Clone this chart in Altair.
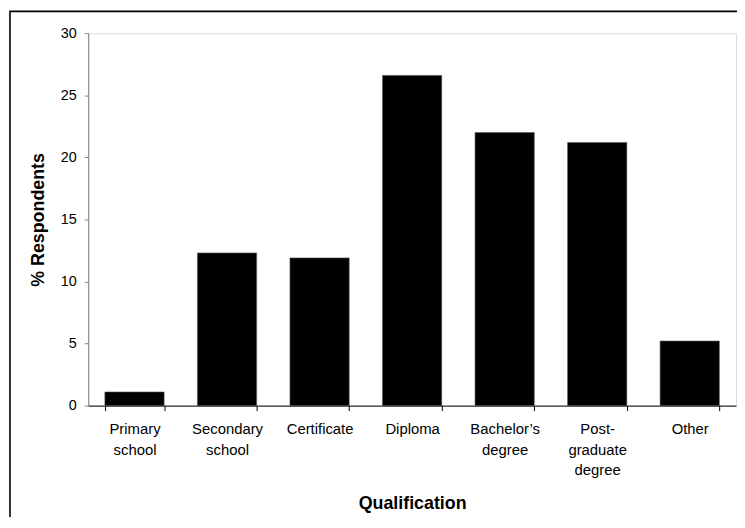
import altair as alt
import pandas as pd

categories = ["Primary school", "Secondary school", "Certificate", "Diploma",
              "Bachelor\u2019s degree", "Post-graduate degree", "Other"]
label_lines = [["Primary", "school"], ["Secondary", "school"], ["Certificate"],
               ["Diploma"], ["Bachelor\u2019s", "degree"],
               ["Post-", "graduate", "degree"], ["Other"]]
values = [1.1, 12.3, 11.9, 26.6, 22.0, 21.2, 5.2]
y_ticks = [0, 5, 10, 15, 20, 25, 30]

df = pd.DataFrame({"Qualification": categories, "Pct": values})

# build multi-line label expression
expr = "datum.label"
for cat, lines in reversed(list(zip(categories, label_lines))):
    arr = "[" + ",".join("'" + l + "'" for l in lines) + "]"
    expr = f"datum.label == '{cat}' ? {arr} : ({expr})"

FONT = "Liberation Sans"

bars = alt.Chart(df).mark_bar(color="#000000", stroke="#555555", strokeWidth=0.6).encode(
    x=alt.X("Qualification:N", sort=categories,
            scale=alt.Scale(paddingInner=0.36, paddingOuter=0.18),
            axis=alt.Axis(title="Qualification", labelAngle=0, labelExpr=expr,
                          tickBand="extent", tickSize=5, tickColor="#000000",
                          domainColor="#000000", labelPadding=11,
                          labelLineHeight=21, labelFontSize=15, labelFont=FONT,
                          labelColor="#000000", titleFont=FONT, titleFontSize=18,
                          titleFontWeight="bold", titleColor="#000000",
                          titleBaseline="alphabetic", titleY=104,
                          labelBaseline="top")),
    y=alt.Y("Pct:Q", scale=alt.Scale(domain=[0, 30], nice=False),
            axis=alt.Axis(title="% Respondents", values=y_ticks, grid=False,
                          tickSize=4, tickColor="#808080", domainColor="#808080",
                          labelPadding=8, labelFontSize=14.5, labelFont=FONT,
                          labelColor="#000000", titleFont=FONT, titleFontSize=18,
                          titleFontWeight="bold", titleColor="#000000",
                          titleBaseline="alphabetic", titleX=-45)),
)

border = alt.Chart(pd.DataFrame({"a": [0]})).mark_rect(
    fill=None, stroke="#000000", strokeWidth=1.6, clip=False
).encode(x=alt.value(-79), x2=alt.value(720), y=alt.value(-22), y2=alt.value(600))

chart = alt.layer(bars, border).properties(
    width=654, height=376,
    autosize=alt.AutoSizeParams(type="none"),
    padding={"left": 81, "top": 23, "right": 1, "bottom": 110},
).configure_view(stroke=None).configure(background="white")

chart.save("out.html", embed_options={"renderer": "svg", "actions": False})
